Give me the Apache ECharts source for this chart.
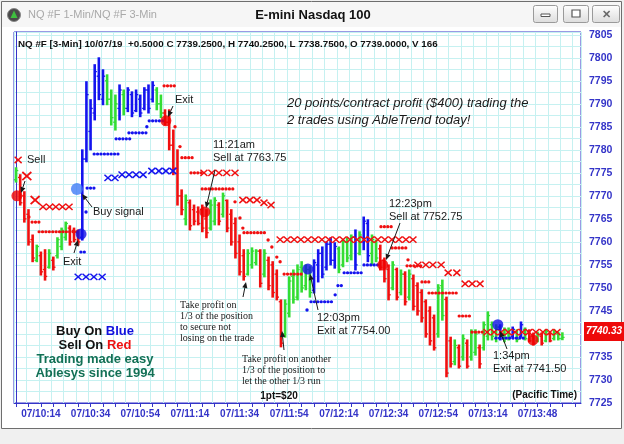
<!DOCTYPE html>
<html><head><meta charset="utf-8">
<script src="https://cdn.jsdelivr.net/npm/echarts@6/dist/echarts.min.js"></script>
<style>html,body{margin:0;padding:0;background:#f0f0f0}#c{width:624px;height:444px}</style>
</head><body><div id="c"></div>
<script>
// ---------- data ----------
const timeLabels = ['07/10:14','07/10:34','07/10:54','07/11:14','07/11:34','07/11:54','07/12:14','07/12:34','07/12:54','07/13:14','07/13:48'];
const labelIdx = [6,18,30,42,54,66,78,90,102,114,126];
const slotCount = 137;

const barHigh = [
7776.1,7774.6,7770.9,7767.0,7761.5,7759.3,7757.8,7758.3,7758.3,7756.7,
7760.9,7763.0,7764.3,7763.5,7763.0,7762.6,7780.0,7794.8,7790.9,7798.5,
7800.0,7797.4,7796.3,7793.0,7791.9,7794.1,7793.0,7793.5,7792.6,7793.0,
7791.9,7793.5,7794.1,7794.8,7793.5,7791.9,7788.7,7788.7,7784.3,7780.0,
7771.3,7770.2,7769.1,7768.0,7767.6,7768.0,7767.0,7769.1,7769.6,7768.5,
7770.6,7769.1,7767.0,7765.2,7761.5,7758.3,7758.3,7758.7,7758.3,7758.3,
7758.3,7756.7,7755.7,7753.9,7747.4,7747.4,7752.4,7753.9,7755.0,7755.7,
7755.0,7754.6,7756.1,7758.3,7758.9,7760.0,7760.9,7759.8,7758.9,7760.4,
7760.9,7761.5,7762.6,7762.2,7765.4,7764.8,7761.5,7760.4,7759.3,7756.5,
7755.0,7755.7,7754.3,7753.9,7753.5,7753.9,7752.8,7751.1,7749.6,7747.4,
7745.9,7744.1,7750.7,7751.7,7748.0,7739.3,7738.7,7737.6,7739.8,7738.7,
7740.9,7740.9,7737.6,7742.6,7744.8,7742.6,7742.0,7742.0,7741.3,7741.3,
7741.5,7740.9,7742.6,7741.3,7740.9,7740.2,7740.4,7740.2,7740.9,7740.2,
7740.9,7740.4,7740.25];
const barLow = [
7773.0,7768.0,7764.3,7759.3,7755.7,7755.7,7752.8,7751.7,7754.3,7753.9,
7756.5,7758.3,7760.4,7759.3,7760.0,7759.3,7760.4,7777.4,7780.0,7786.5,
7790.9,7789.8,7789.8,7785.4,7784.3,7786.5,7787.6,7788.3,7787.2,7788.3,
7787.2,7788.7,7788.0,7790.4,7788.7,7787.0,7785.4,7780.0,7774.6,7768.0,
7765.9,7763.7,7762.6,7763.7,7763.7,7762.2,7760.9,7762.6,7763.7,7763.7,
7765.4,7762.2,7759.3,7756.5,7752.8,7751.7,7752.8,7754.3,7755.0,7750.2,
7752.4,7749.6,7748.0,7747.4,7737.2,7739.3,7743.7,7746.7,7747.4,7749.1,
7749.6,7748.0,7748.9,7751.3,7752.2,7753.9,7755.0,7754.3,7753.3,7754.6,
7755.7,7756.1,7753.9,7757.2,7758.3,7755.7,7755.0,7755.7,7753.9,7751.3,
7747.4,7749.6,7747.4,7748.5,7746.3,7747.4,7745.2,7744.1,7742.6,7739.3,
7737.6,7736.5,7739.3,7743.0,7730.7,7732.8,7733.3,7732.6,7734.3,7732.6,
7734.3,7735.4,7732.6,7736.5,7738.7,7738.7,7738.3,7738.7,7738.3,7738.7,
7739.1,7738.3,7739.3,7738.7,7738.3,7737.6,7738.3,7737.6,7738.3,7738.3,
7738.7,7738.7,7738.75];
const barOpen = [
7773.5,7774.0,7770.0,7766.0,7760.5,7756.0,7757.0,7754.0,7754.5,7756.0,
7757.0,7759.0,7761.0,7763.0,7762.5,7762.0,7761.0,7778.0,7784.0,7788.0,
7796.0,7791.0,7795.0,7791.0,7786.0,7789.0,7792.0,7789.0,7792.0,7788.5,
7791.0,7789.0,7793.0,7791.0,7793.0,7790.0,7788.0,7786.0,7781.0,7776.0,
7770.0,7765.0,7768.5,7767.0,7766.5,7767.0,7765.0,7763.0,7764.5,7768.0,
7766.0,7769.0,7766.0,7764.0,7760.0,7757.0,7753.0,7755.0,7755.5,7758.0,
7753.0,7756.0,7755.0,7753.0,7747.0,7740.0,7744.5,7752.5,7748.0,7754.5,
7750.5,7754.0,7749.5,7755.0,7757.5,7754.5,7759.5,7756.0,7758.5,7755.0,
7760.0,7757.0,7761.0,7757.5,7760.0,7764.0,7757.5,7760.0,7758.5,7756.0,
7754.0,7750.0,7754.0,7749.0,7753.0,7748.0,7752.0,7750.5,7749.0,7747.0,
7745.0,7743.5,7740.0,7750.5,7747.5,7738.5,7734.0,7737.0,7735.0,7738.0,
7735.0,7736.0,7737.0,7737.0,7739.5,7742.0,7739.0,7741.5,7739.0,7740.5,
7739.5,7740.5,7739.5,7741.0,7740.5,7739.5,7738.5,7739.5,7738.5,7740.0,
7739.0,7740.0,7739.0];
const barClose = [
7775.5,7768.5,7765.0,7760.0,7756.5,7759.0,7753.5,7752.5,7757.5,7754.5,
7760.5,7762.5,7764.0,7760.0,7760.5,7760.0,7778.0,7792.0,7789.0,7797.0,
7792.0,7796.0,7791.0,7787.0,7790.0,7793.0,7789.0,7793.0,7788.0,7792.0,
7788.0,7793.0,7789.0,7794.0,7790.0,7788.0,7786.0,7781.0,7776.0,7770.0,
7767.0,7769.0,7763.5,7764.5,7764.0,7763.0,7762.0,7768.0,7769.0,7764.5,
7770.0,7763.0,7760.0,7757.5,7753.5,7752.5,7757.5,7758.0,7758.0,7751.0,
7757.5,7750.5,7749.0,7748.0,7738.0,7746.5,7751.5,7747.5,7754.0,7750.0,
7754.0,7749.0,7755.5,7757.5,7753.0,7759.5,7756.0,7759.0,7754.0,7760.0,
7756.5,7761.0,7755.0,7761.5,7764.5,7757.0,7760.5,7756.5,7754.5,7752.0,
7748.5,7755.0,7748.0,7753.0,7747.0,7753.0,7746.0,7745.0,7743.5,7740.0,
7738.5,7737.0,7750.0,7744.0,7731.5,7733.5,7737.5,7733.0,7739.0,7733.0,
7740.5,7740.0,7733.5,7742.0,7744.0,7739.5,7741.5,7739.5,7741.0,7739.0,
7741.0,7738.8,7742.0,7739.0,7738.5,7738.0,7740.0,7738.0,7740.5,7738.5,
7740.5,7739.0,7739.25];
const barState = ('grrrrgrrgr'+'gggrrrbbbb'+'bbgggbgbbb'+'bbbbggrrrr'+'rgrrrrrggr'+
  'grrrrrgggr'+'grrrrggggg'+'ggbbbbbbgg'+'ggbgbbggrr'+'rgrgrgrrrr'+'rrggrrgrgr'+
  'ggrggggbgg'+'bgbgrrgrgr'+'ggg').split('');

// trailing stop dots: [fromBar, toBar, price]
const redStops = [[3.1,3.1,7765.4],[4.1,5.8,7764.3],[5.8,14.7,7762.2],[36.0,38.4,7793.9],[38.4,38.4,7785.0],
 [39.6,39.6,7780.7],[40.3,42.5,7778.3],[42.5,44.5,7775.0],[45.2,52.4,7771.5],[52.9,52.9,7768.7],
 [54.1,54.1,7765.2],[54.8,54.8,7763.0],[55.3,60.1,7762.0],[60.9,60.9,7760.4],[61.8,61.8,7758.9],
 [63.0,63.0,7756.7],[63.8,63.8,7755.7],[65.0,69.3,7753.0],
 [88.4,90.8,7763.3],[91.1,94.0,7758.7],[94.7,94.7,7756.1],[94.7,98.1,7754.8],[98.3,100.0,7751.3],
 [100.0,106.5,7748.9],[107.3,110.1,7743.9],[110.4,112.8,7740.4]];
const blueStops = [[15.9,16.6,7757.8],[16.9,16.9,7766.5],[17.4,19.1,7771.7],[19.1,24.4,7779.1],[24.4,27.5,7782.4],
 [27.5,31.6,7783.7],[31.6,31.6,7785.0],[32.4,35.5,7786.3],[70.3,70.3,7745.2],[71.5,76.6,7747.0],
 [77.1,77.1,7748.5],[78.0,79.0,7750.5],[79.5,83.8,7753.3],[84.3,87.4,7755.0],[116.2,122.5,7739.1]];

// trend crosses: [bar, price]
const redCrossBig = [[2.6,7774.3],[4.6,7769.1]];
const redCross = [[0.5,7777.8],[6.5,7767.6],[8.1,7767.6],[9.6,7767.6],[11.2,7767.6],[12.8,7767.6],
 [45.4,7775.0],[47.3,7775.0],[49.0,7775.0],[50.9,7775.0],[52.9,7775.0],
 [54.8,7769.1],[56.5,7769.1],[58.2,7769.1],[59.9,7768.5],[61.6,7768.0],
 [63.8,7760.5],[65.5,7760.5],[67.2,7760.5],[68.8,7760.5],[70.5,7760.5],[72.2,7760.5],[73.9,7760.5],
 [75.6,7760.5],[77.3,7760.5],[79.0,7760.5],[80.7,7760.5],[82.4,7760.5],[84.1,7760.5],[85.7,7760.5],
 [87.4,7760.5],[89.1,7760.5],[90.8,7760.5],[92.5,7760.5],[94.2,7760.5],[95.9,7760.5],
 [97.1,7755.0],[99.0,7755.0],[100.7,7755.0],[102.7,7755.0],[104.4,7753.3],[106.5,7753.3],
 [108.5,7750.9],[110.2,7750.9],[112.1,7750.9],
 [113.8,7740.4],[115.5,7740.4],[117.2,7740.4],[118.9,7740.4],[120.6,7740.4],[122.3,7740.4],
 [123.9,7740.4],[125.6,7740.4],[127.3,7740.4],[129.0,7740.4],[130.7,7740.4]];
const blueCross = [[15.0,7752.4],[16.9,7752.4],[18.8,7752.4],[20.8,7752.4],[22.2,7773.9],[23.9,7773.9],
 [25.6,7774.6],[27.3,7774.6],[29.0,7774.6],[30.7,7774.6],[32.8,7775.4],[34.5,7775.4],[36.2,7775.4],[37.9,7775.4]];

// signal dots: [bar, price]
const sellSignals = [[0.2,7770.0],[36.2,7786.3],[45.6,7766.5],[88.6,7755.0],[124.9,7738.7]];
const buyExits = [[15.7,7761.7],[70.5,7754.1],[116.4,7742.0]];
const buySignal = [[14.7,7771.5]];

// ---------- chart ----------
const RED='#f01010', GREEN='#33dd33', BLUE='#1414ee';
const colorOf = {r:RED, g:GREEN, b:BLUE};
const SANS = '"Liberation Sans", Arial, sans-serif';
const SERIF = '"Liberation Serif", "Times New Roman", serif';
const AXC = '#3434c8';

const cats = Array.from({length: slotCount}, (_, i) => {
  const k = labelIdx.indexOf(i); return k >= 0 ? timeLabels[k] : '';
});

function stopRender(col) {
  return function (params, api) {
    const a = api.coord([api.value(0), api.value(2)]);
    const b = api.coord([api.value(1), api.value(2)]);
    if (b[0] - a[0] < 1) return {type:'circle', shape:{cx:a[0], cy:a[1], r:1.7}, style:{fill:col}};
    return {type:'line', shape:{x1:a[0]-1, y1:a[1], x2:b[0]+1, y2:b[1]},
      style:{stroke:col, lineWidth:3.2, lineDash:[0.1,3.3], lineCap:'round'}};
  };
}
function crossRender(col, size, lw) {
  return function (params, api) {
    const p = api.coord([api.value(0), api.value(1)]); const s = size/2;
    return {type:'group', children:[
      {type:'line', shape:{x1:p[0]-s,y1:p[1]-s*0.9,x2:p[0]+s,y2:p[1]+s*0.9}, style:{stroke:col,lineWidth:lw}},
      {type:'line', shape:{x1:p[0]-s,y1:p[1]+s*0.9,x2:p[0]+s,y2:p[1]-s*0.9}, style:{stroke:col,lineWidth:lw}}]};
  };
}

function arrow(x1,y1,x2,y2) {
  const ang = Math.atan2(y2-y1, x2-x1), L = 6, W = 2.6;
  const bx = x2 - L*Math.cos(ang), by = y2 - L*Math.sin(ang);
  const px = -Math.sin(ang)*W, py = Math.cos(ang)*W;
  return [
    {type:'line', z:100, shape:{x1:x1,y1:y1,x2:bx,y2:by}, style:{stroke:'#1a1a1a', lineWidth:1}},
    {type:'polygon', z:100, shape:{points:[[x2,y2],[bx+px,by+py],[bx-px,by-py]]}, style:{fill:'#1a1a1a'}}
  ];
}
function txt(x, y, text, font, fill, align) {
  return {type:'text', z:100, x:x, y:y, style:{text:text, font:font, fill:fill||'#1a1a1a',
    align:align||'left', verticalAlign:'middle'}};
}
const btnFill = () => new echarts.graphic.LinearGradient(0,0,0,1,[{offset:0,color:'#ffffff'},{offset:1,color:'#dcdcdc'}]);

const graphics = [
  // window chrome
  {type:'rect', z:-20, shape:{x:1.5,y:1.5,width:620,height:427}, style:{fill:'#ffffff', stroke:'#6e6e6e', lineWidth:1}},
  {type:'rect', z:-19, shape:{x:2,y:2,width:619,height:25}, style:{fill:'#f6f6f6'}},
  {type:'circle', z:-5, shape:{cx:14,cy:15,r:6.5}, style:{fill:'#4a4a4a', stroke:'#888', lineWidth:1}},
  {type:'polygon', z:-4, shape:{points:[[14,10.5],[10.5,18],[17.5,18]]}, style:{fill:'#3fbf3f'}},
  txt(28, 15, 'NQ #F 1-Min/NQ #F 3-Min', '11px '+SANS, '#a9a9a9'),
  txt(313, 15, 'E-mini Nasdaq 100', 'bold 13px '+SANS, '#111', 'center'),
  {type:'rect', z:-5, shape:{x:533.5,y:5.5,width:24,height:17,r:2}, style:{fill:btnFill(), stroke:'#9a9a9a'}},
  {type:'rect', z:-4, shape:{x:541,y:14,width:9,height:2.5}, style:{fill:'#fff', stroke:'#555', lineWidth:1}},
  {type:'rect', z:-5, shape:{x:563.5,y:5.5,width:25,height:17,r:2}, style:{fill:btnFill(), stroke:'#9a9a9a'}},
  {type:'rect', z:-4, shape:{x:572,y:10,width:8,height:7}, style:{fill:'#fff', stroke:'#555', lineWidth:1.2}},
  {type:'rect', z:-5, shape:{x:592.5,y:5.5,width:27,height:17,r:2}, style:{fill:btnFill(), stroke:'#9a9a9a'}},
  txt(606, 14.5, '✕', 'bold 11px '+SANS, '#6a6a6a', 'center'),
  // header line
  txt(18, 44, 'NQ #F [3-Min] 10/07/19  +0.5000 C 7739.2500, H 7740.2500, L 7738.7500, O 7739.0000, V 166', 'bold 9.8px '+SANS, '#111'),
  // last price box
  {type:'rect', z:50, shape:{x:584,y:322,width:40,height:19}, style:{fill:'#ee0a0a'}},
  txt(604, 331.5, '7740.33', 'italic bold 10px '+SANS, '#ffffff', 'center'),
  // annotations
  txt(27, 160, 'Sell', '11px '+SANS), ...arrow(25,181,21,193),
  txt(93, 212, 'Buy signal', '11px '+SANS), ...arrow(92,207,82,194),
  txt(63, 262, 'Exit', '11px '+SANS), ...arrow(74,253,78,240),
  txt(175, 100, 'Exit', '11px '+SANS), ...arrow(173,106,168,117),
  txt(213, 145, '11:21am', '11px '+SANS), txt(213, 158, 'Sell at 7763.75', '11px '+SANS), ...arrow(215,170,206,208),
  txt(287, 103, '20 points/contract profit ($400) trading the', 'italic 13px '+SANS),
  txt(287, 120, '2 trades using AbleTrend today!', 'italic 13px '+SANS),
  txt(180, 305, 'Take profit on', '10px '+SERIF), txt(180, 316, '1/3 of the position', '10px '+SERIF),
  txt(180, 327, 'to secure not', '10px '+SERIF), txt(180, 338, 'losing on the trade', '10px '+SERIF),
  ...arrow(243,297,246,282),
  txt(242, 359, 'Take profit on another', '10px '+SERIF), txt(242, 370, '1/3 of the position to', '10px '+SERIF),
  txt(242, 381, 'let the other 1/3 run', '10px '+SERIF),
  ...arrow(284,350,282,331),
  txt(317, 318, '12:03pm', '11px '+SANS), txt(317, 331, 'Exit at 7754.00', '11px '+SANS), ...arrow(318,310,310,274),
  txt(389, 204, '12:23pm', '11px '+SANS), txt(389, 217, 'Sell at 7752.75', '11px '+SANS), ...arrow(400,223,386,260),
  txt(493, 356, '1:34pm', '11px '+SANS), txt(493, 369, 'Exit at 7741.50', '11px '+SANS), ...arrow(507,349,500,331),
  {type:'text', z:100, x:95, y:331, style:{text:'{k|Buy On }{b|Blue}', align:'center', verticalAlign:'middle', font:'bold 13px '+SANS,
     rich:{k:{fill:'#111', fontWeight:'bold', fontSize:13, fontFamily:SANS}, b:{fill:'#1010dd', fontWeight:'bold', fontSize:13, fontFamily:SANS}}}},
  {type:'text', z:100, x:95, y:345, style:{text:'{k|Sell On }{b|Red}', align:'center', verticalAlign:'middle', font:'bold 13px '+SANS,
     rich:{k:{fill:'#111', fontWeight:'bold', fontSize:13, fontFamily:SANS}, b:{fill:'#ee1111', fontWeight:'bold', fontSize:13, fontFamily:SANS}}}},
  txt(95, 359, 'Trading made easy', 'bold 13px '+SANS, '#137055', 'center'),
  txt(95, 373, 'Ablesys since 1994', 'bold 13px '+SANS, '#137055', 'center'),
  txt(279, 396, '1pt=$20', 'bold 10px '+SANS, '#111', 'center'),
  txt(577, 395, '(Pacific Time)', 'bold 10px '+SANS, '#111', 'right')
];

const chart = echarts.init(document.getElementById('c'), null, {renderer:'canvas'});
chart.setOption({
  animation: false,
  backgroundColor: '#f0f0f0',
  grid: {left:14, top:32, width:567, height:371, show:true, backgroundColor:'#ffffff', borderColor:AXC, borderWidth:1},
  xAxis: [
    {type:'category', data:cats, boundaryGap:true, position:'bottom',
     axisLine:{show:true, lineStyle:{color:AXC, width:1}},
     axisTick:{show:true, alignWithLabel:true, interval:2, length:4, lineStyle:{color:AXC}},
     axisLabel:{interval:(i)=>labelIdx.indexOf(i)>=0, color:AXC, fontWeight:'bold', fontSize:10, fontFamily:SANS, margin:6},
     splitLine:{show:true, interval:2, lineStyle:{color:'#c6f1f1', width:1}}},
    {type:'value', min:-0.5, max:slotCount-0.5, show:false}
  ],
  yAxis: {type:'value', position:'right', min:7725, max:7805.6, interval:2.5,
    axisLine:{show:true, lineStyle:{color:AXC}}, axisTick:{show:false},
    axisLabel:{formatter:(v)=> (Math.abs(v%5)<1e-6 ? String(v) : ''), color:AXC, fontWeight:'bold', fontSize:10.5, fontFamily:SANS, margin:8},
    splitLine:{show:true, lineStyle:{color:'#c6f1f1', width:1}}},
  graphic: graphics,
  series: [
    {type:'custom', name:'bars', xAxisIndex:1, z:2,
     data: barHigh.map((h,i)=>[i, barOpen[i], h, barLow[i], barClose[i]]),
     encode:{x:0, y:[1,2,3,4]},
     renderItem:(params, api)=>{
       const i = api.value(0);
       const pH = api.coord([i, api.value(2)]), pL = api.coord([i, api.value(3)]);
       const pO = api.coord([i, api.value(1)]), pC = api.coord([i, api.value(4)]);
       const col = colorOf[barState[params.dataIndex]];
       return {type:'group', children:[
         {type:'line', shape:{x1:pH[0],y1:pH[1]-0.5,x2:pL[0],y2:pL[1]+0.5}, style:{stroke:col,lineWidth:2.6}},
         {type:'line', shape:{x1:pO[0]-2.2,y1:pO[1],x2:pO[0],y2:pO[1]}, style:{stroke:col,lineWidth:1.3}},
         {type:'line', shape:{x1:pC[0],y1:pC[1],x2:pC[0]+2.2,y2:pC[1]}, style:{stroke:col,lineWidth:1.3}}]};
     }},
    {type:'custom', name:'redStops', xAxisIndex:1, z:3, data:redStops, encode:{x:[0,1], y:2}, renderItem:stopRender(RED)},
    {type:'custom', name:'blueStops', xAxisIndex:1, z:3, data:blueStops, encode:{x:[0,1], y:2}, renderItem:stopRender(BLUE)},
    {type:'custom', name:'redCross', xAxisIndex:1, z:4, data:redCross, encode:{x:0, y:1}, renderItem:crossRender(RED, 7, 1.5)},
    {type:'custom', name:'redCrossBig', xAxisIndex:1, z:4, data:redCrossBig, encode:{x:0, y:1}, renderItem:crossRender(RED, 9, 1.8)},
    {type:'custom', name:'blueCross', xAxisIndex:1, z:4, data:blueCross, encode:{x:0, y:1}, renderItem:crossRender(BLUE, 7, 1.5)},
    {type:'scatter', name:'sell', xAxisIndex:1, z:5, data:sellSignals, symbol:'circle', symbolSize:11, itemStyle:{color:'#f00000'}},
    {type:'scatter', name:'exitBuy', xAxisIndex:1, z:5, data:buyExits, symbol:'circle', symbolSize:11, itemStyle:{color:'#1010e6'}},
    {type:'scatter', name:'buy', xAxisIndex:1, z:5, data:buySignal, symbol:'circle', symbolSize:12, itemStyle:{color:'#3f7cf6'}}
  ]
});
</script></body></html>
